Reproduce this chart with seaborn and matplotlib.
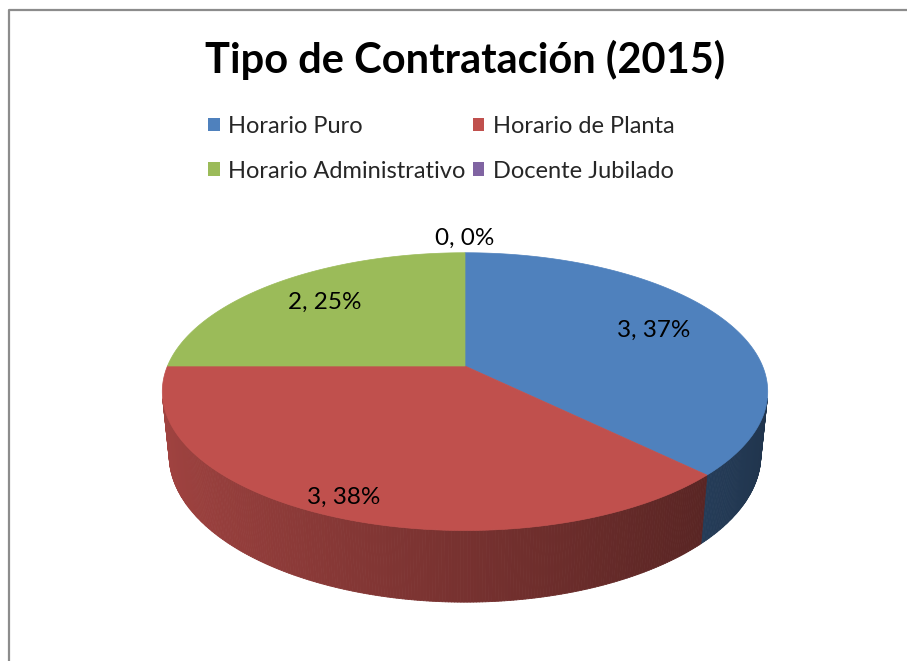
import numpy as np
import matplotlib
matplotlib.use("Agg")
import matplotlib.pyplot as plt
import seaborn as sns
from matplotlib.patches import Patch, Polygon
from matplotlib.collections import PolyCollection
from matplotlib.lines import Line2D

# data
categories = ["Horario Puro", "Horario de Planta", "Horario Administrativo", "Docente Jubilado"]
values = [3, 3, 2, 0]
percents = [37, 38, 25, 0]   # as printed by the original (Excel rounding)
colors = ["#4F81BD", "#C0504D", "#9BBB59", "#8064A2"]

sns.set_theme(style="white")
plt.rcParams['font.family'] = ['Lato', 'DejaVu Sans']

W, H = 907, 661
fig = plt.figure(figsize=(W / 100, H / 100), dpi=100)
ax = fig.add_axes([0, 0, 1, 1])
ax.set_xlim(0, W)
ax.set_ylim(H, 0)
ax.axis("off")

# fake 3d pie: perspective view of a flat cylinder
cx, cy = 465, 366
elev = np.radians(26.8)
dist = 4.84
focal = 1440
depth = 0.24
ce, se = np.cos(elev), np.sin(elev)


def project(X, Y, Z=0.0):
    d = dist + Y * ce - Z * se
    return cx + focal * X / d, cy - focal * (Y * se + Z * ce) / d


def rgb(hexcol):
    return np.array([int(hexcol[i:i + 2], 16) for i in (1, 3, 5)]) / 255.0


total = sum(values)
bounds = np.concatenate([[0], np.cumsum(values)]) / total * 360.0

# outer wall, only the part facing the viewer
wall_polys, wall_cols = [], []
for i, col in enumerate(colors):
    a0, a1 = bounds[i], bounds[i + 1]
    if a1 - a0 <= 0:
        continue
    phis = np.linspace(a0, a1, max(int((a1 - a0) * 2), 2))
    for p0, p1 in zip(phis[:-1], phis[1:]):
        pm = np.radians((p0 + p1) / 2)
        if np.cos(pm) > -1 / (dist * ce):
            continue
        quad = []
        for p, z in [(p0, 0), (p1, 0), (p1, -depth), (p0, -depth)]:
            r = np.radians(p)
            quad.append(project(np.sin(r), np.cos(r), z))
        shade = 0.62 - 0.22 * np.sin(pm)
        c = np.clip(rgb(col) * shade, 0, 1)
        wall_polys.append(quad)
        wall_cols.append(c)
ax.add_collection(PolyCollection(wall_polys, facecolors=wall_cols, edgecolors=wall_cols,
                                 linewidths=0.6, antialiased=True))

# top faces
for i, col in enumerate(colors):
    a0, a1 = bounds[i], bounds[i + 1]
    if a1 - a0 <= 0:
        continue
    phis = np.radians(np.linspace(a0, a1, 200))
    pts = [project(0, 0)] + [project(np.sin(p), np.cos(p)) for p in phis]
    ax.add_patch(Polygon(pts, closed=True, facecolor=col, edgecolor=col, lw=0.5))

# data labels
label_r = [0.72, 0.9, 0.73, 1.15]
for i in range(len(values)):
    mid = np.radians((bounds[i] + bounds[i + 1]) / 2)
    x, y = project(label_r[i] * np.sin(mid), label_r[i] * np.cos(mid))
    ax.text(x, y, f"{values[i]}, {percents[i]}%", ha="center", va="center",
            fontsize=17.5, color="black")

fig.text(465 / W, 1 - 60 / H, "Tipo de Contratación (2015)", ha="center", va="center",
         fontsize=30, fontweight="bold", color="black")

handles = [Patch(facecolor=c, edgecolor="none") for c in colors]
order = [0, 2, 1, 3]
fig.legend([handles[k] for k in order], [categories[k] for k in order], ncol=2,
           loc="upper left", bbox_to_anchor=(208 / W, 1 - 116 / H), frameon=False,
           fontsize=17, handlelength=0.5, handleheight=0.5, handletextpad=0.35,
           columnspacing=0.3, labelspacing=1.0, borderpad=0, borderaxespad=0)

# chart frame: only its top and left edges fall inside the picture
fig.add_artist(Line2D([9 / W, 9 / W, 1.05], [-0.05, 1 - 10 / H, 1 - 10 / H],
                      color="#8c8c8c", lw=1.6, clip_on=False))

fig.savefig("out.png", dpi=100)
